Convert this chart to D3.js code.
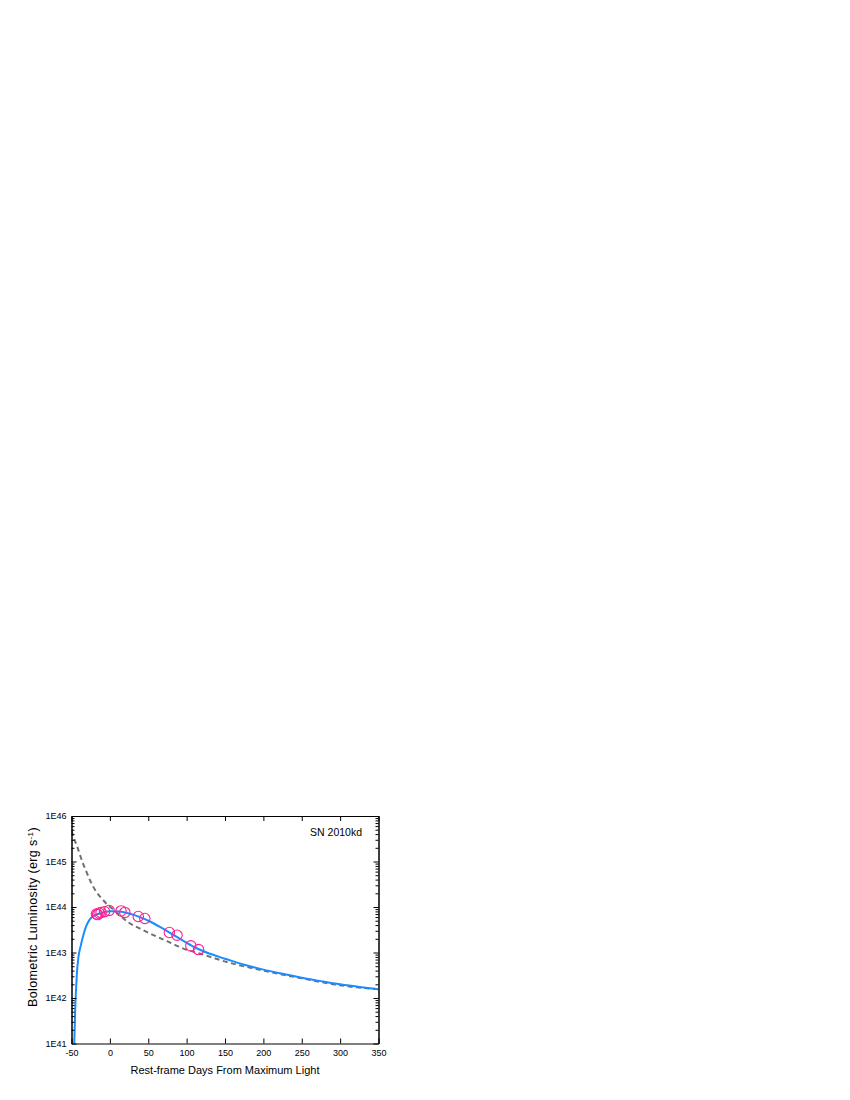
<!DOCTYPE html>
<html lang="en">
<head>
  <meta charset="UTF-8">
  <title>SN 2010kd bolometric light curve</title>
  <script src="https://d3js.org/d3.v7.min.js"></script>
  <style>
    body { margin: 0; background: #fff; }
    text { font-family: "Liberation Sans", Arial, Helvetica, sans-serif; }
  </style>
</head>
<body>
  <div class="canvas"></div>
  <script>
    // observed points (rest-frame days, erg/s)
    const obsDays = [-17.5, -16, -14, -11.5, -7, -1, 14.5, 19.5, 37, 45.5, 77.5, 87.5, 105.5, 115.5];
    const obsLum = [7.0e43, 6.8e43, 7.3e43, 7.6e43, 7.9e43, 8.4e43, 8.2e43, 7.6e43, 6.2e43, 5.6e43, 2.75e43, 2.4e43, 1.4e43, 1.16e43];

    // model fit (blue line)
    const modelDays = [-46.4, -45.6, -45.0, -44.1, -43.0, -41.1, -38.0, -34.6, -31.1, -25.9, -19.5, -12.9, -5, 0.2,
      6, 13.2, 25, 39.3, 52.3, 65.3, 78.3, 91.4, 108.7, 117.4, 143.5, 152.2, 175, 199.9, 225, 249.9, 275, 299.8, 325, 350];
    const modelLum = [1.0e41, 3.0e41, 7.0e41, 1.5e42, 3.4e42, 7.6e42, 1.4e43, 2.4e43, 3.7e43, 5.4e43, 6.6e43, 7.25e43, 7.9e43, 8.1e43,
      8.1e43, 7.95e43, 7.2e43, 6.0e43, 4.8e43, 3.65e43, 2.7e43, 2.0e43, 1.35e43, 1.15e43, 7.9e42, 7.1e42, 5.4e42, 4.2e42, 3.4e42, 2.8e42, 2.35e42, 2.0e42, 1.75e42, 1.55e42];

    // dashed reference curve (grey)
    const decayDays = [-50, -46, -42, -36, -31, -25, -18, -10, -3, 5, 12, 25, 40, 56, 75, 100, 117, 152, 200, 250, 300, 350];
    const decayLum = [4.7e45, 3.0e45, 2.0e45, 1.0e45, 6.2e44, 3.6e44, 2.2e44, 1.5e44, 1.12e44, 8.7e43, 6.8e43, 4.5e43, 3.3e43, 2.45e43,
      1.75e43, 1.15e43, 9.5e42, 6.2e42, 4.0e42, 2.7e42, 1.9e42, 1.55e42];

    const xTicks = [-50, 0, 50, 100, 150, 200, 250, 300, 350];
    const yTicks = [1e41, 1e42, 1e43, 1e44, 1e45, 1e46];

    const width = 850;
    const height = 1100;
    const [pl, pr, pt, pb] = [71.5, 378.5, 816, 1043.5];

    const svg = d3.select('.canvas')
      .append('svg')
      .attr('width', width)
      .attr('height', height);

    const x = d3.scaleLinear().domain([-50, 350]).range([pl, pr]);
    const y = d3.scaleLog().domain([1e41, 1e46]).range([pb, pt]);

    // minor log ticks 2..9 per decade
    const yMinor = [];
    for (let e = 41; e < 46; e++) {
      for (let m = 2; m <= 9; m++) yMinor.push(m * Math.pow(10, e));
    }

    const fmt = d => '1E' + Math.round(Math.log10(d));

    // clip for the curves
    svg.append('clipPath').attr('id', 'plot')
      .append('rect')
      .attr('x', pl).attr('y', pt)
      .attr('width', pr - pl).attr('height', pb - pt);

    const line = d3.line()
      .x(d => x(d[0]))
      .y(d => y(d[1]))
      .curve(d3.curveMonotoneX);

    svg.append('path')
      .datum(decayDays.map((d, i) => [d, decayLum[i]]))
      .attr('clip-path', 'url(#plot)')
      .attr('fill', 'none')
      .attr('stroke', '#707070')
      .attr('stroke-width', 2)
      .attr('stroke-dasharray', '5,3.5')
      .attr('d', line);

    svg.append('path')
      .datum(modelDays.map((d, i) => [d, modelLum[i]]))
      .attr('clip-path', 'url(#plot)')
      .attr('fill', 'none')
      .attr('stroke', '#1a8cff')
      .attr('stroke-width', 2)
      .attr('d', line);

    svg.append('g')
      .selectAll('circle')
      .data(obsDays.map((d, i) => [d, obsLum[i]]))
      .enter()
      .append('circle')
      .attr('cx', d => x(d[0]))
      .attr('cy', d => y(d[1]))
      .attr('r', 5.2)
      .attr('fill', 'none')
      .attr('stroke', '#ff2090')
      .attr('stroke-width', 1.1);

    // axes, ticks pointing inward
    const styleAxis = g => {
      g.select('.domain').attr('stroke', '#000').attr('stroke-width', 1);
      g.selectAll('.tick line').attr('stroke', '#000');
      g.selectAll('.tick text').attr('font-size', 9).attr('fill', '#000')
        .attr('font-family', '"Liberation Sans", Arial, sans-serif');
    };

    svg.append('g')
      .attr('transform', `translate(0, ${pb})`)
      .call(d3.axisBottom(x).tickValues(xTicks).tickSizeInner(-5).tickSizeOuter(0).tickPadding(6).tickFormat(d => String(d)))
      .call(styleAxis);

    svg.append('g')
      .attr('transform', `translate(0, ${pt})`)
      .call(d3.axisTop(x).tickValues(xTicks).tickSizeInner(-5).tickSizeOuter(0).tickFormat(''))
      .call(styleAxis);

    svg.append('g')
      .attr('transform', `translate(${pl}, 0)`)
      .call(d3.axisLeft(y).tickValues(yTicks).tickSizeInner(-5).tickSizeOuter(0).tickPadding(5).tickFormat(fmt))
      .call(styleAxis);

    svg.append('g')
      .attr('transform', `translate(${pl}, 0)`)
      .call(d3.axisLeft(y).tickValues(yMinor).tickSizeInner(-3).tickSizeOuter(0).tickFormat(''))
      .call(styleAxis);

    svg.append('g')
      .attr('transform', `translate(${pr}, 0)`)
      .call(d3.axisRight(y).tickValues(yTicks).tickSizeInner(-5).tickSizeOuter(0).tickFormat(''))
      .call(styleAxis);

    svg.append('g')
      .attr('transform', `translate(${pr}, 0)`)
      .call(d3.axisRight(y).tickValues(yMinor).tickSizeInner(-3).tickSizeOuter(0).tickFormat(''))
      .call(styleAxis);

    // labels
    svg.append('text')
      .attr('x', (pl + pr) / 2)
      .attr('y', 1074)
      .attr('text-anchor', 'middle')
      .attr('font-size', 11)
      .text('Rest-frame Days From Maximum Light');

    const yLab = svg.append('text')
      .attr('transform', `translate(37, 917) rotate(-90)`)
      .attr('text-anchor', 'middle')
      .attr('font-size', 12.5)
      .attr('letter-spacing', 0.35);
    yLab.append('tspan').text('Bolometric Luminosity (erg s');
    yLab.append('tspan').attr('dy', -4.5).attr('font-size', 8).text('-1');
    yLab.append('tspan').attr('dy', 4.5).text(')');

    svg.append('text')
      .attr('x', 362)
      .attr('y', 836)
      .attr('text-anchor', 'end')
      .attr('font-size', 10.5)
      .text('SN 2010kd');
  </script>
</body>
</html>
